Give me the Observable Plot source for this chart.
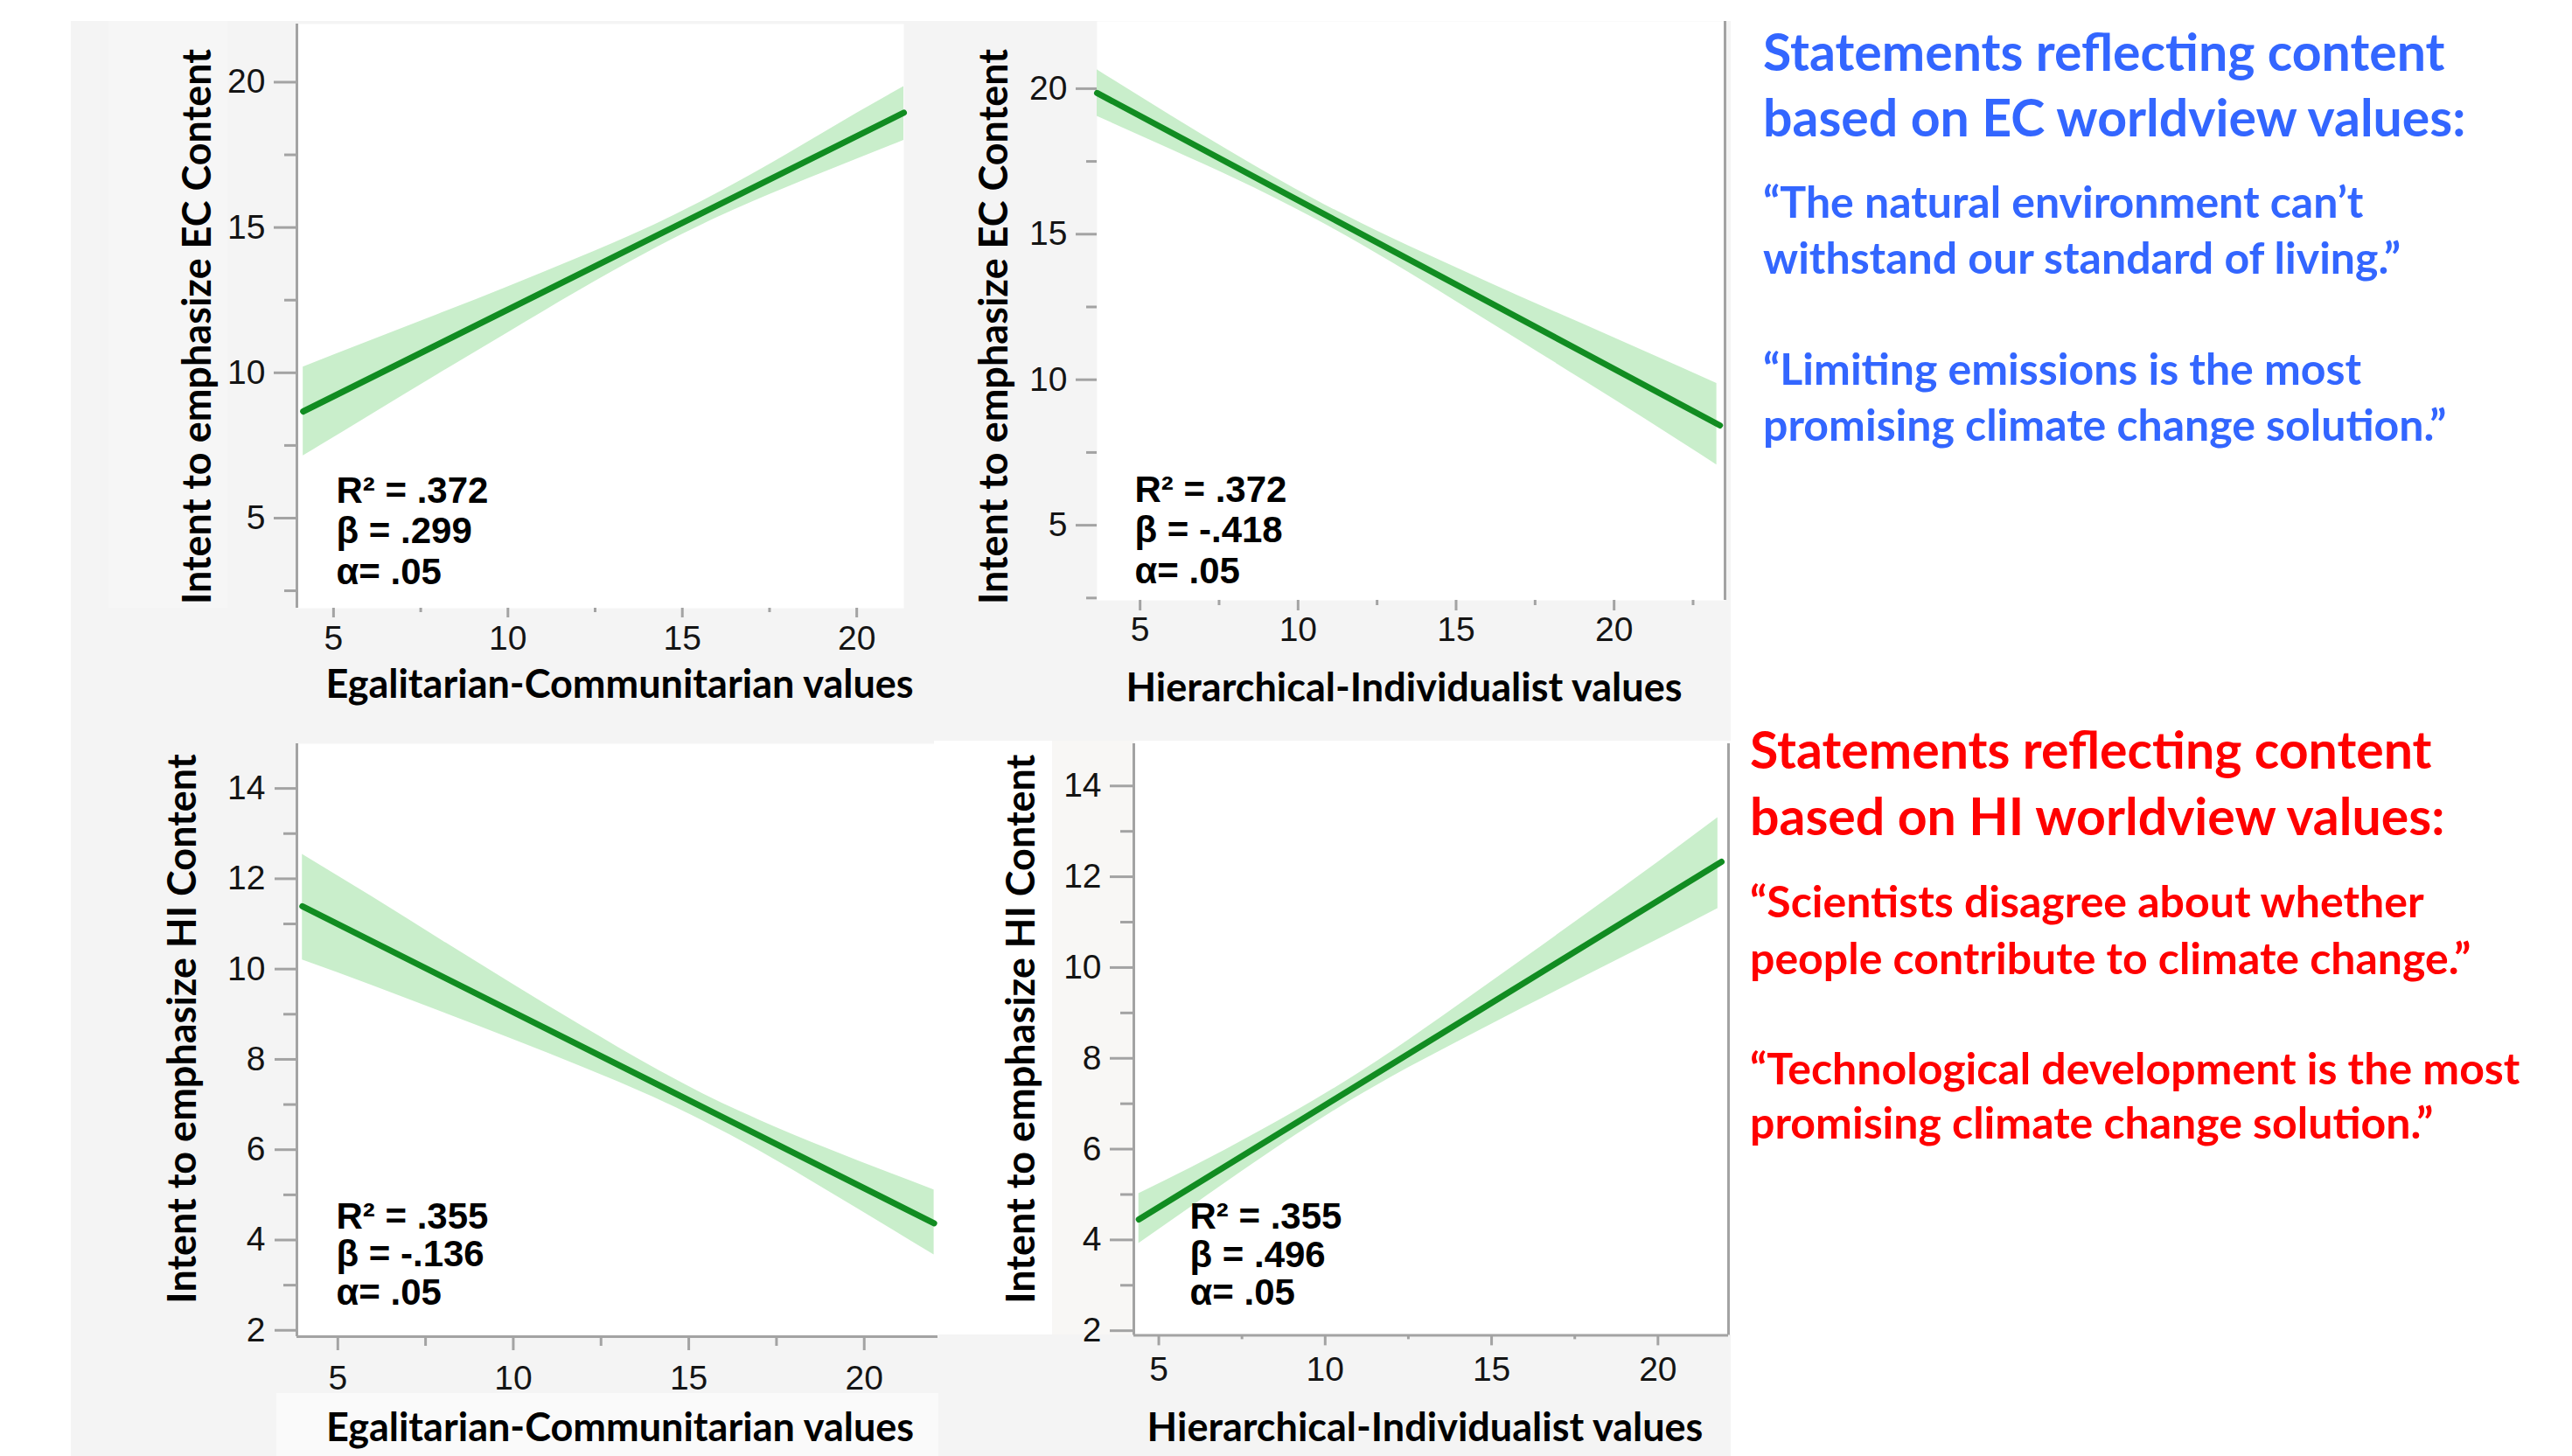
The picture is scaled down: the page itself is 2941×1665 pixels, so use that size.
<!DOCTYPE html>
<html><head><meta charset="utf-8">
<script src="https://cdn.jsdelivr.net/npm/d3@7"></script>
<script src="https://cdn.jsdelivr.net/npm/@observablehq/plot@0.6"></script>
<style>
html,body{margin:0;padding:0;background:#fff;}
#root{position:relative;width:2941px;height:1665px;overflow:hidden;background:#fff;}
.bg{position:absolute;}
</style></head><body><div id="root"></div>
<script>
// ---------- DATA ----------
// Panel A: Egalitarian-Communitarian values -> Intent to emphasize EC content
const aLineX = [4.13, 21.35];
const aLineY = [8.67, 18.95];
const aBandX = [4.13, 6, 8, 10, 12, 14, 15, 16, 18, 20, 21.35];
const aBandLo = [7.14, 8.5, 9.95, 11.38, 12.8, 14.14, 14.76, 15.34, 16.38, 17.35, 18.0];
const aBandHi = [10.2, 11.08, 12.01, 12.96, 13.94, 14.98, 15.56, 16.18, 17.52, 18.93, 19.85];
const aStats = ["R² = .372", "β = .299", "α= .05"];

// Panel B: Hierarchical-Individualist values -> Intent to emphasize EC content
const bLineX = [3.64, 23.35];
const bLineY = [19.85, 8.43];
const bBandX = [3.64, 6, 8, 10.5, 13, 15, 17, 19, 21, 23.25];
const bBandLo = [19.05, 17.9, 16.91, 15.55, 14.01, 12.69, 11.35, 10.0, 8.64, 7.07];
const bBandHi = [20.65, 19.06, 17.75, 16.21, 14.85, 13.85, 12.87, 11.92, 10.96, 9.87];
const bStats = ["R² = .372", "β = -.418", "α= .05"];

// Panel C: Egalitarian-Communitarian values -> Intent to emphasize HI content
const cLineX = [3.99, 21.99];
const cLineY = [11.39, 4.37];
const cBandX = [3.99, 6, 8, 10, 12, 14, 15.4, 17, 19, 21.99];
const cBandLo = [10.2, 9.63, 9.04, 8.44, 7.82, 7.16, 6.64, 5.98, 5.07, 3.67];
const cBandHi = [12.54, 11.59, 10.62, 9.66, 8.72, 7.82, 7.24, 6.66, 6.01, 5.11];
const cStats = ["R² = .355", "β = -.136", "α= .05"];

// Panel D: Hierarchical-Individualist values -> Intent to emphasize HI content
const dLineX = [4.4, 21.91];
const dLineY = [4.45, 12.33];
const dBandX = [4.4, 6, 8, 10.3, 12, 14, 16, 18, 20, 21.8];
const dBandLo = [3.92, 4.74, 5.76, 6.86, 7.59, 8.37, 9.13, 9.88, 10.62, 11.3];
const dBandHi = [5.02, 5.6, 6.38, 7.35, 8.15, 9.17, 10.21, 11.26, 12.32, 13.3];
const dStats = ["R² = .355", "β = .496", "α= .05"];

// Tick values
const ecTicksMajor = [5, 10, 15, 20];
const ecTicksMinor = [2.5, 7.5, 12.5, 17.5];
const hiTicksMajor = [2, 4, 6, 8, 10, 12, 14];
const hiTicksMinor = [3, 5, 7, 9, 11, 13];
const xTicksMajor = [5, 10, 15, 20];
const xTicksMinor = [7.5, 12.5, 17.5, 22.5];

// Axis titles
const xTitleEC = "Egalitarian-Communitarian values";
const xTitleHI = "Hierarchical-Individualist values";
const yTitleEC = "Intent to emphasize EC Content";
const yTitleHI = "Intent to emphasize HI Content";

// Statements
const ecHeading = ["Statements reflecting content", "based on EC worldview values:"];
const ecQuotes = ["“The natural environment can’t", "withstand our standard of living.”", "“Limiting emissions is the most", "promising climate change solution.”"];
const hiHeading = ["Statements reflecting content", "based on HI worldview values:"];
const hiQuotes = ["“Scientists disagree about whether", "people contribute to climate change.”", "“Technological development is the most", "promising climate change solution.”"];

// ---------- STYLE ----------
const LINE = "#118c21", BAND = "#c9eecb", AXIS = "#a3a3a3", INK = "#141414";
const TITLE_FONT = "Lato, 'Open Sans', sans-serif";
const TICK_FONT = "'Liberation Sans', Arial, sans-serif";
const STAT_FONT = "'Liberation Sans Narrow', 'Liberation Sans', Arial, sans-serif";

const root = document.getElementById("root");
function bg(x, y, w, h, c) {
  const d = document.createElement("div");
  d.className = "bg";
  Object.assign(d.style, {left: x + "px", top: y + "px", width: w + "px", height: h + "px", background: c});
  root.appendChild(d);
}
bg(81, 24, 1898, 1641, "#f4f4f4");
bg(124, 24, 136, 671, "#f6f6f6");
bg(1068, 847, 911, 679, "#ffffff");
bg(1203, 847, 94, 679, "#f8f7f5");
bg(316, 1593, 757, 72, "#fafafa");

function panel(p) {
  const [fl, ft, fr, fb] = p.frame;
  const mL = 240, mR = 14, mT = 14, mB = 160;
  const line = p.lineX.map((x, i) => ({x, y: p.lineY[i]}));
  const band = p.bandX.map((x, i) => ({x, lo: p.bandLo[i], hi: p.bandHi[i]}));
  const tk = {stroke: AXIS, strokeWidth: 3, label: null};
  const inDom = (arr, d) => arr.filter(v => v >= d[0] && v <= d[1]);
  const fmt = d => String(d);
  const marks = [
    Plot.frame({fill: "white", stroke: "none"}),
    Plot.areaY(band, {x: "x", y1: "lo", y2: "hi", fill: BAND, curve: "monotone-x"}),
    Plot.lineY(line, {x: "x", y: "y", stroke: LINE, strokeWidth: 7}),
    Plot.axisY(inDom(p.yMajor, p.yDomain), {...tk, tickSize: p.yTick[0], tickPadding: p.yPad, tickFormat: fmt, fontSize: 39, fontFamily: TICK_FONT, fill: INK}),
    Plot.axisY(inDom(p.yMinor, p.yDomain), {...tk, tickSize: p.yTick[1], tickFormat: () => ""}),
    Plot.axisX(inDom(xTicksMajor, p.xDomain), {...tk, tickSize: p.xTick[0], tickPadding: p.xPad, tickFormat: fmt, fontSize: 39, fontFamily: TICK_FONT, fill: INK}),
    Plot.axisX(inDom(xTicksMinor, p.xDomain), {...tk, tickSize: p.xTick[1], tickFormat: () => ""})
  ];
  if (p.edges.includes("left")) marks.push(Plot.ruleX([p.xDomain[0]], {stroke: AXIS, strokeWidth: 3}));
  if (p.edges.includes("right")) marks.push(Plot.ruleX([p.xDomain[1]], {stroke: AXIS, strokeWidth: 3}));
  if (p.edges.includes("bottom")) marks.push(Plot.ruleY([p.yDomain[0]], {stroke: AXIS, strokeWidth: 3}));
  marks.push(
    Plot.text([p.stats.join("\n")], {text: d => d, frameAnchor: "bottom-left", dx: p.statPos[0], dy: p.statPos[1], textAnchor: "start", lineAnchor: "bottom", lineHeight: p.statLH, fontSize: 42, fontWeight: "bold", fontFamily: STAT_FONT, fill: "#000"}),
    Plot.text([p.yTitle], {text: d => d, frameAnchor: "left", rotate: -90, dx: p.yTitlePos[0], dy: p.yTitlePos[1], textAnchor: "middle", lineAnchor: "middle", fontSize: 45, fontWeight: "bold", fontFamily: TITLE_FONT, fill: "#000"}),
    Plot.text([p.xTitle], {text: d => d, frameAnchor: "bottom", dx: p.xTitlePos[0], dy: p.xTitlePos[1], textAnchor: "middle", lineAnchor: "bottom", fontSize: 45, fontWeight: "bold", fontFamily: TITLE_FONT, fill: "#000"})
  );
  const svg = Plot.plot({
    width: fr - fl + mL + mR, height: fb - ft + mT + mB,
    marginLeft: mL, marginRight: mR, marginTop: mT, marginBottom: mB,
    x: {domain: p.xDomain, label: null},
    y: {domain: p.yDomain, label: null},
    style: {background: "transparent", overflow: "visible", fontFamily: TICK_FONT, fontSize: "39px", color: INK},
    marks
  });
  Object.assign(svg.style, {position: "absolute", left: (fl - mL) + "px", top: (ft - mT) + "px", maxWidth: "none"});
  root.appendChild(svg);
}

panel({frame: [339, 27, 1033, 695], xDomain: [3.95, 21.35], yDomain: [1.9, 22.0],
  lineX: aLineX, lineY: aLineY, bandX: aBandX, bandLo: aBandLo, bandHi: aBandHi, stats: aStats,
  yMajor: ecTicksMajor, yMinor: ecTicksMinor, yTick: [26, 14], yPad: 10, xTick: [11, 5], xPad: 9,
  edges: ["left"], yTitle: yTitleEC, xTitle: xTitleEC,
  yTitlePos: [-113, 12], xTitlePos: [22, 102], statPos: [45, -28], statLH: 1.1});

panel({frame: [1254, 24, 1972, 686], xDomain: [3.64, 23.51], yDomain: [2.42, 22.31],
  lineX: bLineX, lineY: bLineY, bandX: bBandX, bandLo: bBandLo, bandHi: bBandHi, stats: bStats,
  yMajor: ecTicksMajor, yMinor: ecTicksMinor, yTick: [24, 12], yPad: 10, xTick: [12, 6], xPad: 7,
  edges: ["right"], yTitle: yTitleEC, xTitle: xTitleHI,
  yTitlePos: [-117, 18], xTitlePos: [-8, 115], statPos: [43, -20], statLH: 1.1});

panel({frame: [339, 849.6, 1072, 1527.6], xDomain: [3.834, 22.1], yDomain: [1.86, 14.99],
  lineX: cLineX, lineY: cLineY, bandX: cBandX, bandLo: cBandLo, bandHi: cBandHi, stats: cStats,
  yMajor: hiTicksMajor, yMinor: hiTicksMinor, yTick: [25, 15], yPad: 11, xTick: [16, 11], xPad: 17,
  edges: ["left", "bottom"], yTitle: yTitleHI, xTitle: xTitleEC,
  yTitlePos: [-130, -13], xTitlePos: [3, 119], statPos: [45, -37], statLH: 1.03});

panel({frame: [1296, 849.6, 1976, 1526], xDomain: [4.25, 22.12], yDomain: [1.9, 14.93],
  lineX: dLineX, lineY: dLineY, bandX: dBandX, bandLo: dBandLo, bandHi: dBandHi, stats: dStats,
  yMajor: hiTicksMajor, yMinor: hiTicksMinor, yTick: [27, 15], yPad: 10, xTick: [12, 5], xPad: 12,
  edges: ["left", "bottom", "right"], yTitle: yTitleHI, xTitle: xTitleHI,
  yTitlePos: [-128, -12], xTitlePos: [-7, 121], statPos: [64, -35], statLH: 1.03});

// ---------- statements (text) ----------
const tsvg = d3.select(root).append("svg")
  .attr("width", 2941).attr("height", 1665)
  .style("position", "absolute").style("left", "0px").style("top", "0px")
  .style("font-family", TITLE_FONT).style("font-weight", "bold");
function block(x, color, heading, hBase, quotes, qBase) {
  heading.forEach((t, i) => tsvg.append("text").attr("x", x).attr("y", hBase[i]).attr("fill", color).attr("font-size", 59).text(t));
  quotes.forEach((t, i) => tsvg.append("text").attr("x", x).attr("y", qBase[i]).attr("fill", color).attr("font-size", 50).text(t));
}
block(2016, "#3366ff", ecHeading, [81, 156], ecQuotes, [249, 313, 440, 504]);
block(2001, "#ff0000", hiHeading, [879, 955], hiQuotes, [1049, 1114, 1240, 1302]);
</script></body></html>
